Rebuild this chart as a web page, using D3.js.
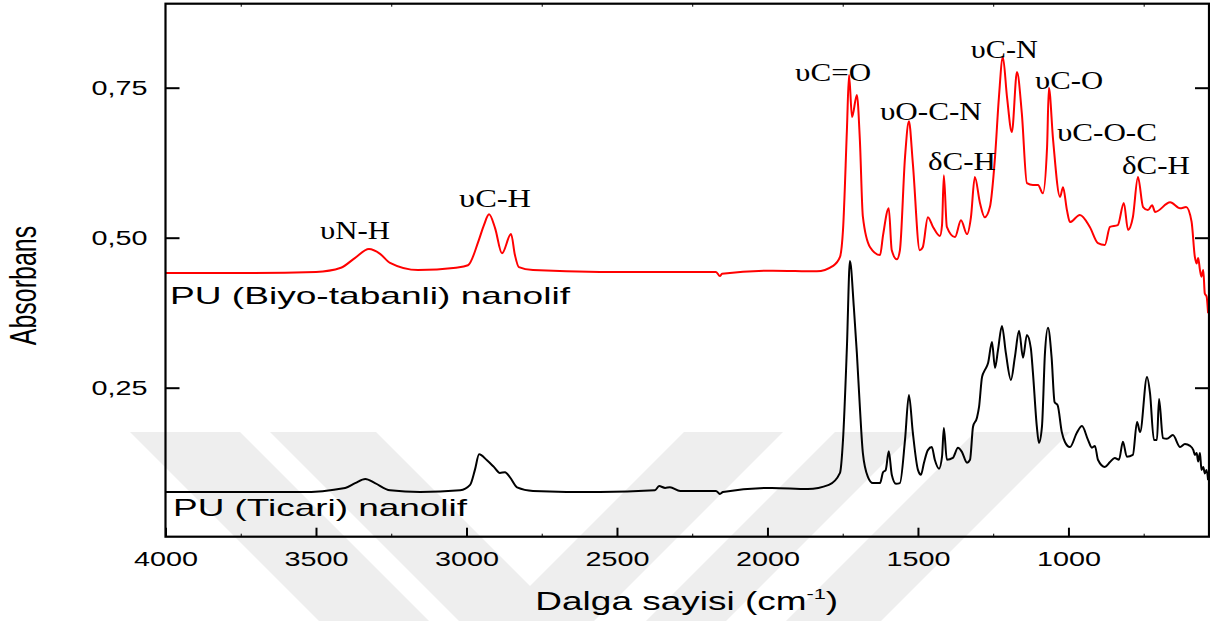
<!DOCTYPE html>
<html>
<head>
<meta charset="utf-8">
<script src="https://cdn.jsdelivr.net/npm/d3@7/dist/d3.min.js"></script>
<style>
  html, body { margin: 0; padding: 0; background: #fff; }
  svg { display: block; }
</style>
</head>
<body>
<svg id="chart" width="1210" height="621"></svg>
<script>
// FTIR spectra: [wavenumber (cm-1), absorbance]
const bioSpectrum = [
  [4000,.441],[3719,.441],[3500,.443],[3417,.450],[3371,.466],[3324,.481],[3287,.473],
  [3254,.458],[3161,.446],[3035,.450],[2995,.454],[2959,.496],[2942,.521],[2925,.539],
  [2905,.516],[2882,.474],[2852,.506],[2839,.471],[2826,.451],[2779,.446],[2557,.443],
  [2171,.443],[2158,.436],[2151,.440],[1982,.445],[1836,.444],[1782,.453],[1759,.468],
  [1749,.513],[1736,.680],[1729,.771],[1719,.701],[1703,.738],[1693,.663],[1683,.535],
  [1659,.484],[1626,.471],[1616,.504],[1597,.549],[1587,.479],[1570,.464],[1560,.479],
  [1543,.634],[1530,.694],[1517,.624],[1494,.479],[1484,.484],[1467,.534],[1450,.518],
  [1427,.503],[1420,.521],[1414,.604],[1404,.518],[1377,.501],[1357,.529],[1337,.506],
  [1324,.534],[1311,.601],[1294,.558],[1278,.534],[1261,.551],[1244,.634],[1231,.734],
  [1218,.801],[1204,.734],[1188,.676],[1171,.776],[1155,.708],[1138,.591],[1118,.588],
  [1101,.588],[1085,.574],[1071,.651],[1065,.750],[1051,.663],[1028,.568],[1018,.584],
  [1005,.546],[995,.526],[962,.538],[929,.518],[902,.491],[879,.488],[862,.518],
  [836,.521],[816,.558],[802,.513],[786,.534],[769,.601],[752,.551],[736,.546],
  [722,.554],[712,.543],[662,.559],[629,.549],[609,.551],[591,.527],[580,.468],
  [574,.457],[569,.466],[563,.446],[558,.435],[552,.446],[547,.407],[541,.402],[536,.374]
];

const commercialSpectrum = [
  [4000,.076],[3553,.076],[3403,.083],[3370,.091],[3336,.098],[3304,.091],[3254,.079],
  [3154,.076],[3021,.079],[2988,.088],[2972,.113],[2958,.139],[2932,.129],[2909,.118],
  [2889,.108],[2872,.109],[2856,.101],[2832,.084],[2779,.078],[2557,.076],[2374,.079],
  [2360,.086],[2340,.083],[2324,.084],[2290,.078],[2171,.078],[2158,.073],[2148,.076],
  [1985,.083],[1866,.081],[1796,.088],[1759,.108],[1749,.163],[1736,.318],[1726,.461],
  [1713,.384],[1703,.308],[1693,.218],[1683,.141],[1666,.101],[1650,.091],[1626,.091],
  [1616,.109],[1607,.113],[1597,.144],[1587,.105],[1573,.090],[1560,.091],[1543,.163],
  [1530,.238],[1517,.175],[1500,.113],[1490,.105],[1480,.125],[1467,.146],[1454,.151],
  [1444,.130],[1430,.115],[1420,.135],[1414,.183],[1404,.130],[1384,.133],[1367,.150],
  [1354,.143],[1337,.125],[1327,.130],[1317,.185],[1304,.200],[1297,.218],[1287,.268],
  [1277,.280],[1267,.291],[1254,.326],[1244,.283],[1234,.313],[1221,.353],[1208,.308],
  [1191,.263],[1178,.301],[1164,.345],[1151,.300],[1138,.338],[1125,.316],[1118,.275],
  [1105,.185],[1098,.158],[1088,.185],[1078,.308],[1068,.350],[1056,.301],[1046,.226],
  [1036,.221],[1022,.176],[1012,.160],[995,.151],[972,.175],[955,.186],[935,.163],
  [922,.150],[912,.153],[902,.130],[879,.118],[862,.126],[846,.133],[832,.130],
  [819,.160],[806,.135],[786,.138],[772,.193],[762,.176],[739,.268],[729,.241],
  [716,.163],[706,.163],[699,.231],[686,.166],[673,.165],[653,.171],[629,.151],
  [613,.156],[596,.153],[585,.146],[580,.138],[574,.141],[569,.127],[563,.141],
  [558,.113],[552,.118],[547,.107],[541,.113],[536,.096]
];

const xTicks = [4000, 3500, 3000, 2500, 2000, 1500, 1000];
const xTickLabels = ["4000", "3500", "3000", "2500", "2000", "1500", "1000"];
const xMinorTicks = [3750, 3250, 2750, 2250, 1750, 1250, 750];
const yTicks = [0.25, 0.50, 0.75];
const yTickLabels = ["0,25", "0,50", "0,75"];

// Band assignments: label, centre wavenumber, baseline absorbance, drawn width
const bandNames = ["υN-H", "υC-H", "υC=O", "υO-C-N", "δC-H", "υC-N", "υC-O", "υC-O-C", "δC-H"];
const bandWavenumbers = [3370, 2905, 1782, 1457, 1354, 1213, 998, 872, 709];
const bandAbsorbances = [0.498, 0.551, 0.761, 0.696, 0.613, 0.799, 0.748, 0.661, 0.606];
const bandWidths = [70, 72, 76, 102, 68, 67, 68, 100, 68];

// Sample names, placed under each trace
const sampleNames = ["PU (Biyo-tabanli) nanolif", "PU (Ticari) nanolif"];
const sampleWavenumbers = [3985, 3975];
const sampleAbsorbances = [0.390, 0.036];
const sampleWidths = [400, 294];

(function drawChart() {
  const svg = d3.select("#chart");
  const mLeft = 165.5, mRight = 1209, mTop = 3.7, mBottom = 537.7;

  const x = d3.scaleLinear().domain([4000, 533]).range([mLeft, mRight]);
  const y = d3.scaleLinear().domain([0, 0.89]).range([mBottom, mTop]);

  // Faint diagonal watermark bands
  const wm = svg.append("g").attr("fill", "#eeeeee");
  const wmBands = [
    [130, 240, 1.0], [270, 376, 1.0],
    [684, 783, -1.0], [835, 915, -1.0], [975, 1070, -1.0]
  ];
  const wmTop = 432, wmBot = 650;
  wmBands.forEach(([xl, xr, s]) => {
    const d = wmBot - wmTop;
    wm.append("polygon").attr("points", [
      [xl, wmTop], [xr, wmTop], [xr + s * d, wmBot], [xl + s * d, wmBot]
    ].map(p => p.join(",")).join(" "));
  });

  // Spectra
  const line = d3.line()
    .x(d => x(d[0]))
    .y(d => y(d[1]))
    .curve(d3.curveMonotoneX);

  svg.append("path").datum(commercialSpectrum)
    .attr("d", line).attr("fill", "none")
    .attr("stroke", "#000").attr("stroke-width", 2).attr("stroke-linejoin", "round");

  svg.append("path").datum(bioSpectrum)
    .attr("d", line).attr("fill", "none")
    .attr("stroke", "#ff0000").attr("stroke-width", 2).attr("stroke-linejoin", "round");

  // Axes (ticks point inward)
  const sans = "'Liberation Sans', Arial, sans-serif";
  const serif = "'Liberation Serif', 'Times New Roman', serif";

  const gx = svg.append("g").attr("transform", `translate(0,${mBottom - 1})`)
    .call(d3.axisBottom(x).tickValues(xTicks).tickSize(-9).tickPadding(15)
      .tickFormat((d, i) => xTickLabels[i]));
  gx.select(".domain").remove();
  gx.selectAll("line").attr("stroke-width", 2);
  gx.selectAll("text").attr("font-family", sans).attr("font-size", 20)
    .attr("fill", "#000").attr("textLength", 64).attr("lengthAdjust", "spacingAndGlyphs");

  const gxm = svg.append("g").attr("transform", `translate(0,${mBottom - 1})`)
    .call(d3.axisBottom(x).tickValues(xMinorTicks).tickSize(-3).tickFormat(""));
  gxm.select(".domain").remove();

  const gxt = svg.append("g").attr("transform", `translate(0,${mTop})`)
    .call(d3.axisTop(x).tickValues(xMinorTicks).tickSize(-3).tickFormat(""));
  gxt.select(".domain").remove();

  const gy = svg.append("g").attr("transform", `translate(${mLeft},0)`)
    .call(d3.axisLeft(y).tickValues(yTicks).tickSize(-14).tickPadding(18)
      .tickFormat((d, i) => yTickLabels[i]));
  gy.select(".domain").remove();
  gy.selectAll("line").attr("stroke-width", 2);
  gy.selectAll("text").attr("font-family", sans).attr("font-size", 20)
    .attr("fill", "#000").attr("textLength", 56).attr("lengthAdjust", "spacingAndGlyphs");

  const gyr = svg.append("g").attr("transform", `translate(${mRight},0)`)
    .call(d3.axisRight(y).tickValues(yTicks).tickSize(-14).tickFormat(""));
  gyr.select(".domain").remove();
  gyr.selectAll("line").attr("stroke-width", 2);

  // Plot frame
  svg.append("rect")
    .attr("x", mLeft).attr("y", mTop)
    .attr("width", mRight - mLeft).attr("height", mBottom - mTop - 1)
    .attr("fill", "none").attr("stroke", "#000").attr("stroke-width", 2.2);

  // Band labels
  svg.append("g").selectAll("text").data(bandNames).join("text")
    .attr("x", (d, i) => x(bandWavenumbers[i]))
    .attr("y", (d, i) => y(bandAbsorbances[i]))
    .attr("text-anchor", "middle")
    .attr("font-family", serif).attr("font-size", 26).attr("fill", "#000")
    .attr("textLength", (d, i) => bandWidths[i]).attr("lengthAdjust", "spacingAndGlyphs")
    .text(d => d);

  // Sample labels
  svg.append("g").selectAll("text").data(sampleNames).join("text")
    .attr("x", (d, i) => x(sampleWavenumbers[i]))
    .attr("y", (d, i) => y(sampleAbsorbances[i]))
    .attr("font-family", sans).attr("font-size", 24).attr("fill", "#000")
    .attr("textLength", (d, i) => sampleWidths[i]).attr("lengthAdjust", "spacingAndGlyphs")
    .text(d => d);

  // Axis titles (typeset wide, as in the original figure export)
  const xt = svg.append("g")
    .attr("transform", `translate(${(mLeft + mRight) / 2 - 0.5},610) scale(1.45,1)`)
    .append("text").attr("text-anchor", "middle")
    .attr("font-family", sans).attr("font-size", 25.5).attr("fill", "#000");
  xt.append("tspan").text("Dalga sayisi (cm");
  xt.append("tspan").attr("font-size", 15).attr("dy", -11).text("-1");
  xt.append("tspan").attr("dy", 11).text(")");

  svg.append("g").attr("transform", "translate(22.5,285.5) scale(1.45,1)")
    .append("text").attr("transform", "rotate(-90)")
    .attr("text-anchor", "middle").attr("dy", "0.36em")
    .attr("font-family", sans).attr("font-size", 25).attr("fill", "#000")
    .text("Absorbans");
})();
</script>
</body>
</html>
